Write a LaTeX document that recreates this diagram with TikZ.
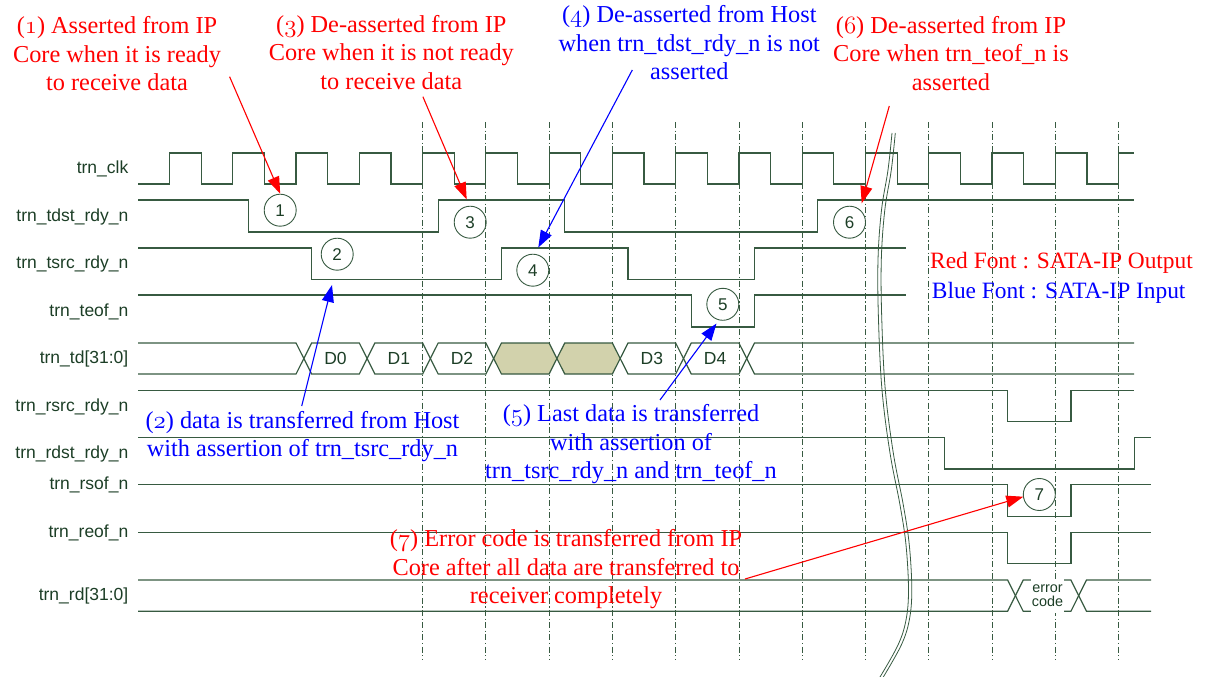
\documentclass[tikz,border=0pt]{standalone}
\usepackage{fontspec}
\usetikzlibrary{arrows.meta}
\newfontfamily\labelfont{Liberation Sans}
\newfontfamily\notefont{Liberation Serif}
% hanging (old-style) figures for the note numbers
\newcommand\hangnum[1]{{\usefont{OML}{cmm}{m}{it}#1}}
\definecolor{wire}{RGB}{55,90,65}
\definecolor{labelgreen}{RGB}{28,62,38}
\definecolor{idlefill}{RGB}{210,210,172}
\definecolor{annred}{RGB}{255,0,0}
\definecolor{annblue}{RGB}{0,0,255}

\begin{document}
\begin{tikzpicture}[x=1pt,y=-1pt,
  sig/.style={draw=wire, line width=1.2pt, line join=miter},
  gridline/.style={draw=wire, line width=0.8pt, dash pattern=on 6pt off 2.5pt on 1.2pt off 2.5pt},
  siglabel/.style={anchor=base east, inner sep=0pt, text=labelgreen, font=\labelfont\fontsize{17.5}{20}\selectfont},
  datalabel/.style={inner sep=0pt, text=labelgreen, font=\labelfont\fontsize{17.5}{20}\selectfont},
  numcirc/.style={circle, draw=wire, line width=0.9pt, minimum size=32pt, inner sep=0pt, text=labelgreen, font=\labelfont\fontsize{17}{18}\selectfont},
  ann/.style={align=center, inner sep=0pt, anchor=north, font=\notefont\fontsize{24.3}{28.5}\selectfont},
  redann/.style={ann, text=annred},
  blueann/.style={ann, text=annblue},
  legendtext/.style={anchor=base west, inner sep=0pt, font=\notefont\fontsize{23.4}{26}\selectfont},
  redarrow/.style={draw=annred, line width=1.1pt, -{Triangle[length=17pt,width=12pt]}},
  bluearrow/.style={draw=annblue, line width=1.1pt, -{Triangle[length=17pt,width=12pt]}}
]
\useasboundingbox (0,0) rectangle (1205,677);

% clock period and first rising edge
\def\Per{63.27}
\def\Tz{169.5}

% dash-dot cycle markers
\foreach \k in {4,...,15}
  \draw[gridline] ({\Tz+\k*\Per},122) -- ({\Tz+\k*\Per},660);

% signal names
\node[siglabel] (lclk)  at (128.5,173.8) {trn\_clk};
\node[siglabel] (ltdst) at (128.5,221.3) {trn\_tdst\_rdy\_n};
\node[siglabel] (ltsrc) at (128.5,268.8) {trn\_tsrc\_rdy\_n};
\node[siglabel] (lteof) at (128.5,316.3) {trn\_teof\_n};
\node[siglabel] (ltd)   at (128.5,363.8) {trn\_td[31:0]};
\node[siglabel] (lrsrc) at (128.5,411.3) {trn\_rsrc\_rdy\_n};
\node[siglabel] (lrdst) at (128.5,458.8) {trn\_rdst\_rdy\_n};
\node[siglabel] (lrsof) at (128.5,489.8) {trn\_rsof\_n};
\node[siglabel] (lreof) at (128.5,537.6) {trn\_reof\_n};
\node[siglabel] (lrd)   at (128.5,600.9) {trn\_rd[31:0]};

% clock
\draw[sig] (138,184)
  \foreach \k in {0,...,14}{
    -- ({\Tz+\k*\Per},184) -- ({\Tz+\k*\Per},153)
    -- ({\Tz+\k*\Per+\Per/2},153) -- ({\Tz+\k*\Per+\Per/2},184)}
  -- ({\Tz+15*\Per},184) -- ({\Tz+15*\Per},153) -- (1134,153);

% transmit handshake
\draw[sig] (138,200) -- (248.4,200) -- (248.4,232) -- (438.2,232) -- (438.2,200)
  -- (564.7,200) -- (564.7,232) -- (817.8,232) -- (817.8,200) -- (1134,200);
\draw[sig] (138,248) -- (311.6,248) -- (311.6,279.5) -- (501.5,279.5) -- (501.5,248)
  -- (628,248) -- (628,279.5) -- (754.5,279.5) -- (754.5,248) -- (906,248);
\draw[sig] (138,295) -- (691.3,295) -- (691.3,327) -- (754.5,327) -- (754.5,295) -- (906,295);

% transmit data bus: idle slots filled
\foreach \a/\b in {485.85/549.12, 549.12/612.39}
  \fill[idlefill] (\a+7.8,358.5) -- (\a+15.6,343) -- (\b,343) -- (\b+7.8,358.5)
    -- (\b,374) -- (\a+15.6,374) -- cycle;
\draw[sig] (138,343) -- (296.04,343) -- (311.64,374) -- (359.31,374) -- (374.91,343)
  -- (422.58,343) -- (438.18,374) -- (485.85,374) -- (501.45,343)
  -- (549.12,343) -- (564.72,374) -- (612.39,374) -- (627.99,343)
  -- (675.66,343) -- (691.26,374) -- (738.93,374) -- (754.53,343) -- (1134,343);
\draw[sig] (138,374) -- (296.04,374) -- (311.64,343) -- (359.31,343) -- (374.91,374)
  -- (422.58,374) -- (438.18,343) -- (485.85,343) -- (501.45,374)
  -- (549.12,374) -- (564.72,343) -- (612.39,343) -- (627.99,374)
  -- (675.66,374) -- (691.26,343) -- (738.93,343) -- (754.53,374) -- (1134,374);
\node[datalabel] (d0) at (335.5,358.5) {D0};
\node[datalabel] (d1) at (398.8,358.5) {D1};
\node[datalabel] (d2) at (462.0,358.5) {D2};
\node[datalabel] (d3) at (651.8,358.5) {D3};
\node[datalabel] (d4) at (715.1,358.5) {D4};

% receive side
\draw[sig] (138,390.3) -- (1007.6,390.3) -- (1007.6,421.5) -- (1070.9,421.5) -- (1070.9,390.3) -- (1134,390.3);
\draw[sig] (138,437.7) -- (944.3,437.7) -- (944.3,469) -- (1134.2,469) -- (1134.2,437.7) -- (1151,437.7);
\draw[sig] (138,484.7) -- (1007.6,484.7) -- (1007.6,516.7) -- (1070.9,516.7) -- (1070.9,484.7) -- (1151,484.7);
\draw[sig] (138,532.3) -- (1007.6,532.3) -- (1007.6,563.5) -- (1070.9,563.5) -- (1070.9,532.3) -- (1151,532.3);
\draw[sig] (138,580) -- (1007.6,580) -- (1023.2,611.3) -- (1070.9,611.3) -- (1086.5,580) -- (1151,580);
\draw[sig] (138,611.3) -- (1007.6,611.3) -- (1023.2,580) -- (1070.9,580) -- (1086.5,611.3) -- (1151,611.3);
\node[fill=white, inner xsep=1pt, inner ysep=0pt, minimum height=34pt, align=center,
      text=labelgreen, font=\labelfont\fontsize{14.4}{14}\selectfont] (errcode) at (1047.5,595.6) {error\\code};

% time break
\foreach \dx in {0,3.3}
  \draw[wire, line width=0.8pt] plot[smooth, tension=0.6] coordinates {
    (892+\dx,133) (888+\dx,170) (881.5+\dx,210) (878+\dx,260) (878.5+\dx,320)
    (882+\dx,390) (890+\dx,453) (900+\dx,505) (906+\dx,545) (908.5+\dx,590)
    (906+\dx,620) (898+\dx,645) (880+\dx,677)};

% numbered events
\node[numcirc] (c1) at (280.2,210.2) {1};
\node[numcirc] (c2) at (337.2,254.2) {2};
\node[numcirc] (c3) at (470.2,222.2) {3};
\node[numcirc] (c4) at (532.8,270.2) {4};
\node[numcirc] (c5) at (722.8,304.3) {5};
\node[numcirc] (c6) at (849.5,222.2) {6};
\node[numcirc] (c7) at (1039.3,494.5) {7};

% notes
\node[redann] (n1) at (117,16.5) {(\hangnum{1}) Asserted from IP\\Core when it is ready\\to receive data};
\node[redann] (n3) at (391.3,14.8) {(\hangnum{3}) De-asserted from IP\\Core when it is not ready\\to receive data};
\node[blueann] (n4) at (689.3,5.5) {(\hangnum{4}) De-asserted from Host\\when trn\_tdst\_rdy\_n is not\\asserted};
\node[redann] (n6) at (951,15.8) {(\hangnum{6}) De-asserted from IP\\Core when trn\_teof\_n is\\asserted};
\node[blueann] (n2) at (302.5,410.8) {(\hangnum{2}) data is transferred from Host\\with assertion of trn\_tsrc\_rdy\_n};
\node[blueann] (n5) at (631,404.2) {(\hangnum{5}) Last data is transferred\\with assertion of\\trn\_tsrc\_rdy\_n and trn\_teof\_n};
\node[redann] (n7) at (566,529.2) {(\hangnum{7}) Error code is transferred from IP\\Core after all data are transferred to\\receiver completely};

% legend
\node[legendtext, text=annred]  (lgred)  at (930,268.3) {Red Font : SATA-IP Output};
\node[legendtext, text=annblue] (lgblue) at (931.7,298.3) {Blue Font : SATA-IP Input};

% pointers from the notes
\coordinate (a1s) at (229.6,76.7);
\coordinate (a3s) at (422.9,96.7);
\coordinate (a3e) at (466.7,199.5);
\coordinate (a4s) at (632.3,70);
\coordinate (a4e) at (538.3,247.5);
\coordinate (a6s) at (889.3,106);
\coordinate (a6e) at (861.7,203.3);
\coordinate (a2s) at (301.7,406);
\coordinate (a2e) at (332,285);
\coordinate (a5s) at (660,400);
\coordinate (a5e) at (716.5,323.5);
\coordinate (a7s) at (745,579);
\coordinate (a7e) at (1023.3,496.7);
\draw[redarrow]  (a1s) -- (c1.north);
\draw[redarrow]  (a3s) -- (a3e);
\draw[bluearrow] (a4s) -- (a4e);
\draw[redarrow]  (a6s) -- (a6e);
\draw[bluearrow] (a2s) -- (a2e);
\draw[bluearrow] (a5s) -- (a5e);
\draw[redarrow]  (a7s) -- (a7e);
\end{tikzpicture}
\end{document}
